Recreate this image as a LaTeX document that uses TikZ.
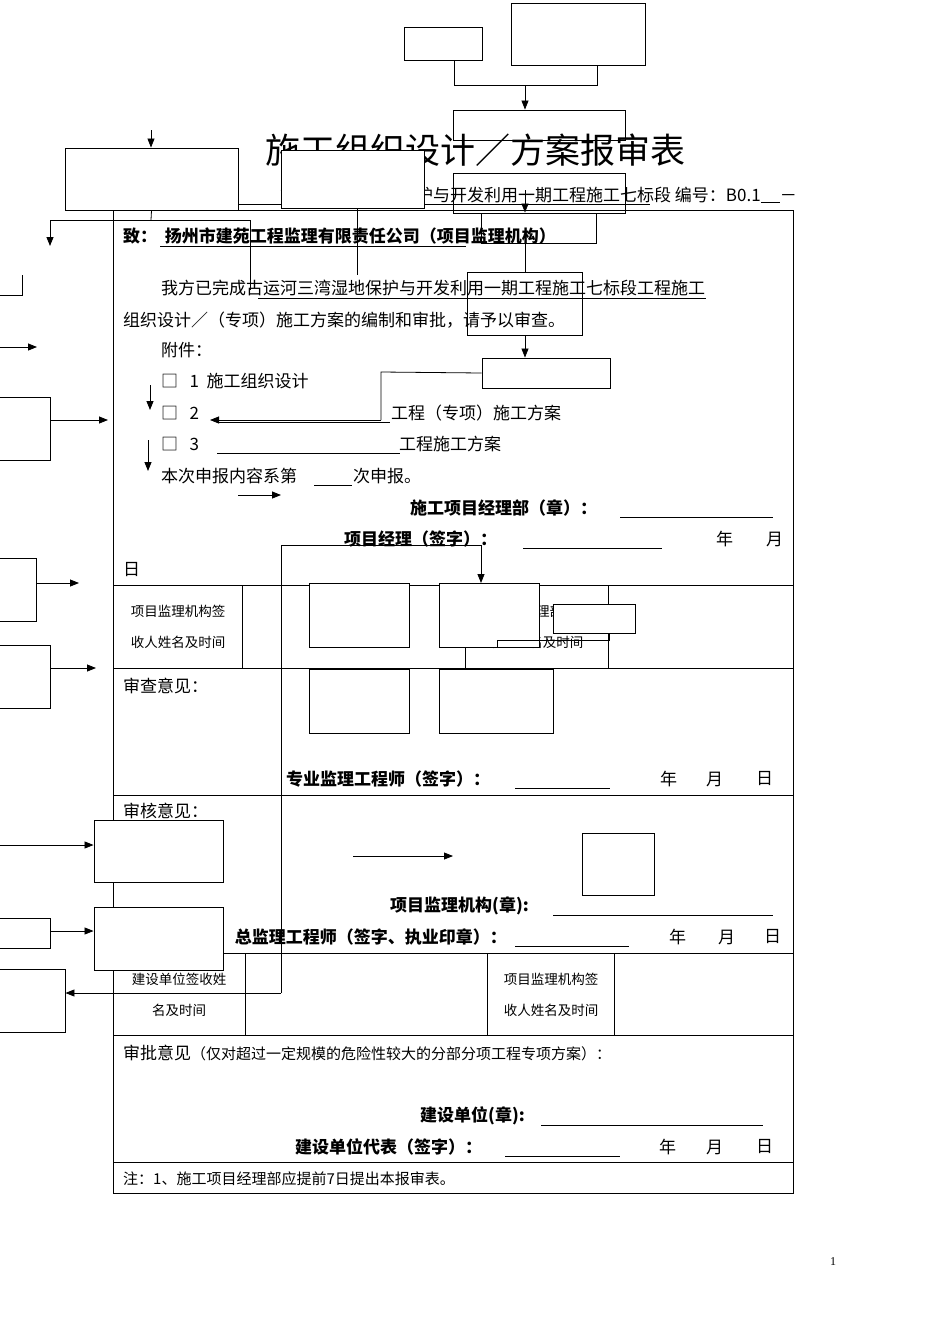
\documentclass[tikz,border=0pt]{standalone}
\usepackage{fontspec}
\setmainfont{Liberation Serif}
\newfontfamily\cjk{Noto Sans CJK SC}
\usetikzlibrary{arrows.meta}
\begin{document}
\begin{tikzpicture}[x=1pt,y=-1pt,
  bx/.style={draw,fill=white,line width=0.9pt},
  ln/.style={line width=0.8pt},
  ar/.style={line width=0.8pt,-{Triangle[length=9pt,width=7pt]}},
  tl/.style={line width=0.8pt},
  t/.style={anchor=west,inner sep=0pt,font=\cjk\fontsize{17}{17}\selectfont},
  tb/.style={t,font=\cjk\bfseries\fontsize{17}{17}\selectfont},
  ts/.style={inner sep=0pt,font=\cjk\fontsize{13.5}{13.5}\selectfont},
  ul/.style={line width=0.7pt}]
\useasboundingbox (0,0) rectangle (950,1344);
\fill[white] (0,0) rectangle (950,1344);
% title and header
\node[inner sep=0pt,font=\cjk\fontsize{35}{35}\selectfont] (title) at (475,150) {施工组织设计／方案报审表};
\node[anchor=east,inner sep=0pt,font=\cjk\fontsize{17}{17}\selectfont] (hdr) at (797,195) {古运河三湾湿地保护与开发利用一期工程施工七标段 编号：B0.1\underline{\ \ \ \ \ }－};
\draw[ul] (215,204) -- (650,204);
% table
\draw[tl] (113,210) rectangle (793,1193);
\foreach \y in {585,668,795,953,1035,1162} \draw[tl] (113,\y) -- (793,\y);
\foreach \x in {242,465,608} \draw[tl] (\x,585) -- (\x,668);
\foreach \x in {245,487,614} \draw[tl] (\x,953) -- (\x,1035);
% texts
\node[tb] (t1) at (123,236) {致：\ \ 扬州市建苑工程监理有限责任公司（项目监理机构）};
\draw[ul] (160,246) -- (466,246);
\node[t] (t2) at (161,288) {我方已完成古运河三湾湿地保护与开发利用一期工程施工七标段工程施工};
\draw[ul] (258,298) -- (706,298);
\node[t] (t3) at (123,320) {组织设计／（专项）施工方案的编制和审批，请予以审查。};
\node[t] (t4) at (161,350) {附件：};
\node[t] (t5) at (161,381) {□\ \ \ 1\ \ 施工组织设计};
\node[t] (t6) at (161,413) {□\ \ \ 2\hspace{192pt}工程（专项）施工方案};
\draw[ul] (217,422) -- (390,422);
\node[t] (t7) at (161,444) {□\ \ \ 3\hspace{200pt}工程施工方案};
\draw[ul] (217,453) -- (400,453);
\node[t] (t8) at (161,476) {本次申报内容系第\hspace{56pt}次申报。};
\draw[ul] (314,485) -- (352,485);
\node[tb] (t9) at (410,508) {施工项目经理部（章）：};
\draw[ul] (620,517) -- (773,517);
\node[tb] (t10) at (344,539) {项目经理（签字）：};
\draw[ul] (523,548) -- (662,548);
\node[t] (y1) at (716,539) {年};
\node[t] (m1) at (766,539) {月};
\node[t] (d1) at (123,570) {日};
\node[ts] (c1) at (178,611) {项目监理机构签};
\node[ts] (c2) at (178,642) {收人姓名及时间};
\node[ts] (c3) at (536,611) {项目经理部签};
\node[ts] (c4) at (536,642) {收人姓名及时间};
\node[t] (t11) at (123,686) {审查意见：};
\node[tb] (t12) at (286,779) {专业监理工程师（签字）：};
\draw[ul] (515,788) -- (610,788);
\node[t] (y2) at (660,779) {年};
\node[t] (m2) at (706,779) {月};
\node[t] (d2) at (756,779) {日};
\node[t] (t13) at (123,811) {审核意见：};
\node[tb] (t14) at (390,906) {项目监理机构(章):};
\draw[ul] (553,915) -- (773,915);
\node[tb,anchor=east] (t15) at (507,937) {总监理工程师（签字、执业印章）：};
\draw[ul] (515,946) -- (629,946);
\node[t] (y3) at (669,937) {年};
\node[t] (m3) at (718,937) {月};
\node[t] (d3) at (764,937) {日};
\node[ts] (c5) at (179,979) {建设单位签收姓};
\node[ts] (c6) at (179,1010) {名及时间};
\node[ts] (c7) at (551,979) {项目监理机构签};
\node[ts] (c8) at (551,1010) {收人姓名及时间};
\node[t] (t16) at (123,1053) {审批意见{\fontsize{15}{15}\selectfont （仅对超过一定规模的危险性较大的分部分项工程专项方案）：}};
\node[tb] (t17) at (420,1116) {建设单位(章):};
\draw[ul] (541,1125) -- (763,1125);
\node[tb] (t18) at (295,1147) {建设单位代表（签字）：};
\draw[ul] (505,1156) -- (620,1156);
\node[t] (y4) at (659,1147) {年};
\node[t] (m4) at (706,1147) {月};
\node[t] (d4) at (756,1147) {日};
\node[t,font=\cjk\fontsize{15}{15}\selectfont] (t19) at (123,1179) {注：1、施工项目经理部应提前7日提出本报审表。};
\node[inner sep=0pt,font=\fontsize{12}{12}\selectfont] (pg) at (833,1262) {1};
% flow boxes top
\node[bx,minimum width=78,minimum height=33] (b1) at (443,43.5) {};
\node[bx,minimum width=134,minimum height=62] (b2) at (578,34) {};
\coordinate (j1) at (454,85); \coordinate (j2) at (597,85); \coordinate (j3) at (525,85);
\draw[ln] (b1.south -| j1) -- (j1) -- (j2) -- (b2.south -| j2);
\node[bx,minimum width=172,minimum height=30,fill=none] (b3) at (539,125) {};
\node[bx,minimum width=172,minimum height=40,fill=none] (b4) at (539,193) {};
\draw[ar] (j3) -- (b3.north -| j3);
\node[bx,minimum width=115,minimum height=30,fill=none] (b5) at (539,228) {};
\draw[ar] (525,190) -- (b5.north -| j3);
\draw[ln] (b5.south -| j3) -- (525,272);
\node[bx,minimum width=115,minimum height=63,fill=none] (b6) at (524.5,303.5) {};
\node[bx,minimum width=128,minimum height=30] (b7) at (546,373) {};
\draw[ar] (b6.south -| j3) -- (b7.north -| j3);
\coordinate (k1) at (381,372); \coordinate (k2) at (381,420); \coordinate (k3) at (210,420);
\draw[ln] (b7.west) -- (k1) -- (k2);
\draw[ar] (k2) -- (k3);
% left boxes
\coordinate (a0) at (151,130);
\node[bx,minimum width=173,minimum height=62] (L1) at (151.5,179) {};
\draw[ar] (a0) -- (L1.north -| a0);
\node[bx,minimum width=143,minimum height=58] (L2) at (352.5,179) {};
\draw[ln] (L2.south -| 357,0) -- (357,275);
\coordinate (h1) at (151,220); \coordinate (h2) at (50,220); \coordinate (h3) at (250,220);
\draw[ln] (L1.south) -- (h1); \draw[ln] (h2) -- (h3) -- (250,290);
\draw[ar] (h2) -- (50,246);
\draw[ln] (0,295) -- (22,295) -- (22,275);
\coordinate (e0) at (0,347); \coordinate (e1) at (37,347); \draw[ar] (e0) -- (e1);
\node[bx,minimum width=60,minimum height=63] (L3) at (20,428.5) {};
\draw[ar] (L3.east |- 0,420) -- (108,420);
\draw[ar] (150,385) -- (150,410);
\draw[ar] (148,440) -- (148,471);
\draw[ar] (238,495) -- (281,495);
\node[bx,minimum width=46,minimum height=63] (L4) at (13,589.5) {};
\draw[ar] (L4.east |- 0,583) -- (79,583);
\node[bx,minimum width=60,minimum height=63] (L5) at (20,676.5) {};
\draw[ar] (L5.east |- 0,668) -- (96,668);
% middle boxes
\coordinate (m0) at (281,545); \coordinate (m1) at (481,545); \coordinate (m2) at (281,993);
\draw[ln] (m2) -- (m0) -- (m1);
\draw[ar] (m1) -- (481,583);
\node[bx,minimum width=100,minimum height=64] (M1) at (359,615) {};
\node[bx,minimum width=100,minimum height=64] (M2) at (489,615) {};
\draw[ln] (497,647) -- (497,640) -- (609,640) -- (609,633);
\node[bx,minimum width=82,minimum height=29] (M3) at (594,618.5) {};
\node[bx,minimum width=100,minimum height=64] (M4) at (359,701) {};
\node[bx,minimum width=114,minimum height=64] (M5) at (496,701) {};
% lower
\node[bx,minimum width=129,minimum height=62] (N1) at (158.5,851) {};
\draw[ar] (0,845) -- (N1.west |- 0,845);
\node[bx,minimum width=60,minimum height=30] (N2) at (20,933) {};
\node[bx,minimum width=129,minimum height=63] (N3) at (158.5,938.5) {};
\draw[ar] (N2.east |- 0,931) -- (N3.west |- 0,931);
\node[bx,minimum width=70,minimum height=63] (N4) at (30,1000.5) {};
\draw[ar] (m2) -- (N4.east |- m2);
\draw[ar] (353,856) -- (453,856);
\node[bx,minimum width=72,minimum height=62] (N5) at (618,864) {};
\end{tikzpicture}
\end{document}
